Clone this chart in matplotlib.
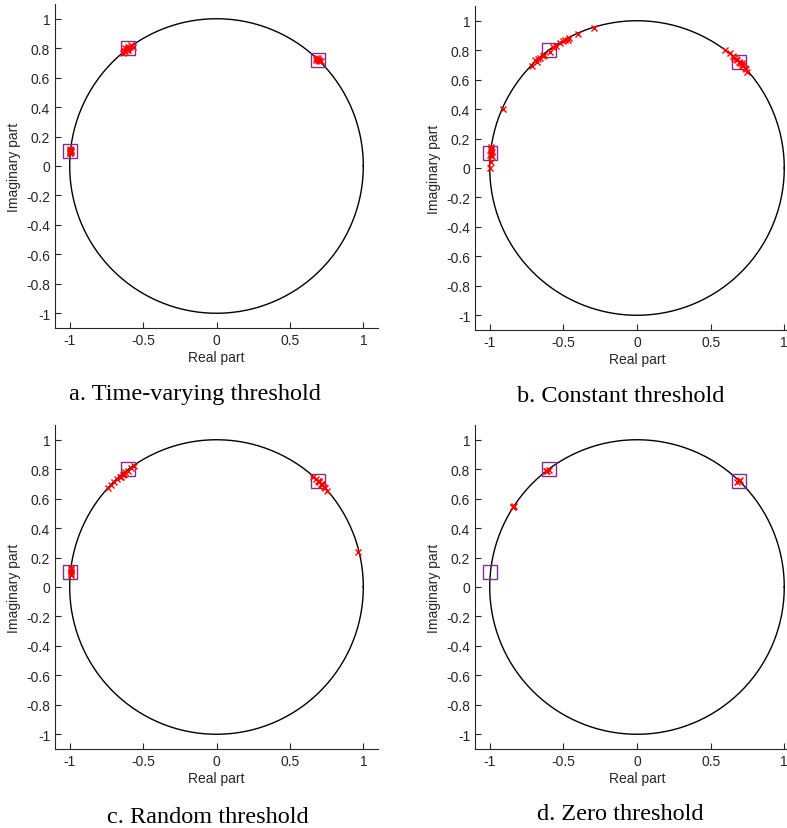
import numpy as np
import matplotlib
matplotlib.use('Agg')
import matplotlib.pyplot as plt
from matplotlib.ticker import FormatStrFormatter

# true poles (boxes), same in every panel
poleRe = [-0.995, -0.60, 0.69]
poleIm = [0.10, 0.80, 0.72]

# estimated poles (crosses) for each threshold type
aRe = [-0.99, -0.995, -1.0, -0.99, -0.995, -1.0, -0.99, -0.995,
       -0.64, -0.62, -0.61, -0.60, -0.59, -0.58, -0.60, -0.62, -0.57, -0.63, -0.61, -0.60,
       0.68, 0.69, 0.70, 0.69, 0.70, 0.68, 0.71]
aIm = [0.11, 0.10, 0.09, 0.095, 0.115, 0.105, 0.10, 0.085,
       0.77, 0.78, 0.79, 0.80, 0.81, 0.82, 0.79, 0.80, 0.81, 0.78, 0.795, 0.805,
       0.73, 0.72, 0.71, 0.73, 0.72, 0.72, 0.71]

bRe = [-0.29, -0.40, -0.46, -0.49, -0.52, -0.55, -0.59, -0.63, -0.67, -0.68, -0.71, -0.91,
       -0.50, -0.47, -0.57, -0.66, -0.69, -0.64,
       -0.99, -0.99, -0.985, -0.99, -0.995, -0.99, -0.985, -0.99, -1.0,
       0.60, 0.63, 0.65, 0.67, 0.68, 0.69, 0.70, 0.71, 0.72, 0.73, 0.74, 0.75, 0.66, 0.71]
bIm = [0.95, 0.91, 0.88, 0.87, 0.85, 0.83, 0.79, 0.77, 0.74, 0.72, 0.69, 0.40,
       0.86, 0.87, 0.82, 0.75, 0.73, 0.76,
       0.14, 0.12, 0.11, 0.10, 0.09, 0.13, 0.08, 0.04, 0.0,
       0.80, 0.78, 0.76, 0.74, 0.73, 0.72, 0.71, 0.70, 0.69, 0.68, 0.67, 0.65, 0.75, 0.71]

cRe = [-0.99, -0.99, -0.99, -0.99, -0.99, -0.99,
       -0.74, -0.72, -0.70, -0.68, -0.66, -0.64, -0.62, -0.60, -0.58, -0.56, -0.65, -0.63,
       0.66, 0.68, 0.69, 0.70, 0.71, 0.72, 0.73, 0.74, 0.75, 0.70, 0.72, 0.965]
cIm = [0.08, 0.09, 0.10, 0.11, 0.12, 0.13,
       0.67, 0.69, 0.71, 0.73, 0.75, 0.76, 0.78, 0.79, 0.81, 0.82, 0.75, 0.77,
       0.75, 0.73, 0.72, 0.71, 0.70, 0.69, 0.68, 0.67, 0.65, 0.72, 0.70, 0.24]

dRe = [-0.61, -0.60, -0.62, -0.84, -0.835, -0.845, 0.69, 0.70, 0.68]
dIm = [0.79, 0.795, 0.785, 0.545, 0.55, 0.54, 0.72, 0.725, 0.715]

xTicks = [-1, -0.5, 0, 0.5, 1]
yTicks = [-1, -0.8, -0.6, -0.4, -0.2, 0, 0.2, 0.4, 0.6, 0.8, 1]

captions = ['a. Time-varying threshold', 'b. Constant threshold',
            'c. Random threshold', 'd. Zero threshold']

W, H = 787, 829
fig = plt.figure(figsize=(W / 100, H / 100), dpi=100)

# axes boxes in pixels: left, top, right, bottom
boxes = [(55, 5, 378, 329), (475, 7, 799, 331), (55, 426, 378, 750), (475, 426, 799, 750)]
capX = [195, 621, 208, 620]
capY = [395, 397, 818, 815]
data = [(aRe, aIm), (bRe, bIm), (cRe, cIm), (dRe, dIm)]

t = np.linspace(0, 2 * np.pi, 400)
gray = '#262626'

for i in range(4):
    l, tp, r, b = boxes[i]
    ax = fig.add_axes([l / W, 1 - b / H, (r - l) / W, (b - tp) / H])
    ax.plot(np.cos(t), np.sin(t), color='black', lw=1.0)
    ax.plot(poleRe, poleIm, 's', mfc='none', mec='#7E2F8E', ms=10, mew=1.0)
    ax.plot(data[i][0], data[i][1], 'x', color='red', ms=5, mew=1.0)
    ax.set_xlim(-1.1, 1.1)
    ax.set_ylim(-1.1, 1.1)
    ax.set_xticks(xTicks)
    ax.set_yticks(yTicks)
    ax.xaxis.set_major_formatter(FormatStrFormatter('%g'))
    ax.yaxis.set_major_formatter(FormatStrFormatter('%g'))
    ax.spines['top'].set_visible(False)
    ax.spines['right'].set_visible(False)
    ax.spines['left'].set_color(gray)
    ax.spines['bottom'].set_color(gray)
    ax.spines['left'].set_linewidth(0.8)
    ax.spines['bottom'].set_linewidth(0.8)
    ax.tick_params(direction='in', length=4, width=0.8, colors=gray, labelsize=10,
                   labelfontfamily='Liberation Sans')
    ax.set_xlabel('Real part', fontsize=10, family='Liberation Sans', color=gray, labelpad=2)
    ax.set_ylabel('Imaginary part', fontsize=10, family='Liberation Sans', color=gray, labelpad=4)
    fig.text(capX[i] / W, 1 - capY[i] / H, captions[i],
             ha='center', va='center', fontsize=17.5, family='Liberation Serif')

plt.savefig('out.png', dpi=100)
